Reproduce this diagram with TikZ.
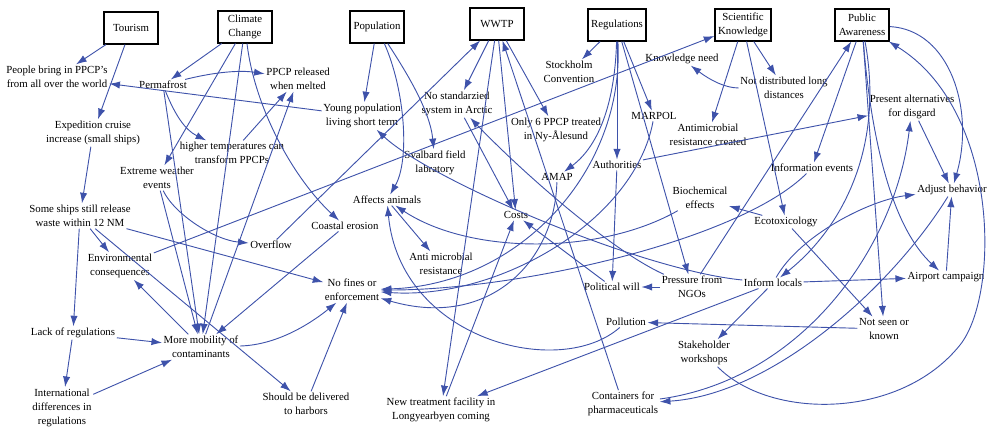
\documentclass[tikz,border=0pt]{standalone}
\usepackage{fontspec}
\setmainfont{Liberation Serif}
\usepackage{tikz}
\usetikzlibrary{arrows.meta}
\definecolor{linkblue}{RGB}{62,82,170}

\begin{document}
\begin{tikzpicture}[
    x=0.025cm, y=-0.025cm,
    >={Latex[length=7.5pt,width=5.2pt]},
    lbl/.style={font=\fontsize{7.7}{10.2}\selectfont, align=center, inner sep=1pt},
    factor/.style={lbl, draw, line width=1.3pt, minimum width=1.36cm, minimum height=0.78cm, inner xsep=2pt},
    link/.style={->, draw=linkblue, line width=0.65pt},
]
\useasboundingbox (0,0) rectangle (991,431);

\node[factor] (tourism) at (131,28) {Tourism};
\node[factor] (climate) at (245,27) {Climate\\Change};
\node[factor] (population) at (377,27) {Population};
\node[factor] (wwtp) at (497,24) {WWTP};
\node[factor] (regs) at (617,25) {Regulations};
\node[factor] (sciknow) at (743,25) {Scientific\\Knowledge};
\node[factor] (pubaware) at (862,25) {Public\\Awareness};

\node[lbl] (people) at (57,77) {People bring in PPCP's\\from all over the world};
\node[lbl] (perma) at (163,85) {Permafrost};
\node[lbl] (ppcprel) at (298,79) {PPCP released\\when melted};
\node[lbl] (young) at (362,116) {Young population\\living short term};
\node[lbl] (nostd) at (457,104) {No standarzied\\system in Arctic};
\node[lbl] (stock) at (569,72) {Stockholm\\Convention};
\node[lbl] (knowneed) at (682,59) {Knowledge need};
\node[lbl] (notdist) at (784,88) {Not distributed long\\distances};
\node[lbl] (only6) at (556,130) {Only 6 PPCP treated\\in Ny-Ålesund};
\node[lbl] (marpol) at (654,116) {MARPOL};
\node[lbl] (presalt) at (912,107) {Present alternatives\\for disgard};
\node[lbl] (exped) at (93,133) {Expedition cruise\\increase (small ships)};
\node[lbl] (hightemp) at (232,153) {higher temperatures can\\transform PPCPs};
\node[lbl] (antimic) at (708,135) {Antimicrobial\\resistance created};
\node[lbl] (svalbard) at (435,163) {Svalbard field\\labratory};
\node[lbl] (amap) at (557,177) {AMAP};
\node[lbl] (auth) at (617,165) {Authorities};
\node[lbl] (extreme) at (157,178) {Extreme weather\\events};
\node[lbl] (infoev) at (812,168) {Information events};
\node[lbl] (biochem) at (700,198) {Biochemical\\effects};
\node[lbl] (affects) at (387,200) {Affects animals};
\node[lbl] (costs) at (516,215) {Costs};
\node[lbl] (ecotox) at (786,222) {Ecotoxicology};
\node[lbl] (adjust) at (952,190) {Adjust behavior};
\node[lbl] (ships) at (80,216) {Some ships still release\\waste within 12 NM};
\node[lbl] (overflow) at (271,245) {Overflow};
\node[lbl] (coastal) at (345,226) {Coastal erosion};
\node[lbl] (antires) at (441,264) {Anti microbial\\resistance};
\node[lbl] (envcons) at (120,266) {Environmental\\consequences};
\node[lbl] (nofines) at (352,290) {No fines or\\enforcement};
\node[lbl] (polwill) at (612,287) {Political will};
\node[lbl] (pressure) at (692,287) {Pressure from\\NGOs};
\node[lbl] (inform) at (773,283) {Inform locals};
\node[lbl] (airport) at (946,277) {Airport campaign};
\node[lbl] (pollution) at (626,322) {Pollution};
\node[lbl] (notseen) at (884,329) {Not seen or\\known};
\node[lbl] (lackreg) at (73,333) {Lack of regulations};
\node[lbl] (mobil) at (201,347) {More mobility of\\contaminants};
\node[lbl] (stake) at (704,353) {Stakeholder\\workshops};
\node[lbl] (intl) at (62,408) {International\\differences in\\regulations};
\node[lbl] (delivered) at (306,404) {Should be delivered\\to harbors};
\node[lbl] (newtreat) at (441,410) {New treatment facility in\\Longyearbyen coming};
\node[lbl] (containers) at (623,404) {Containers for\\pharmaceuticals};

\draw[link] (tourism) -- (people);
\draw[link] (tourism) -- (exped);
\draw[link] (climate) -- (perma);
\draw[link] (climate) -- (extreme);
\draw[link] (climate) -- (mobil);
\draw[link] (climate) .. controls (255,110) and (295,180) .. (coastal);
\draw[link] (perma) .. controls (215,72) and (240,70) .. (ppcprel);
\draw[link] (perma) .. controls (175,115) and (185,130) .. (hightemp);
\draw[link] (perma) -- (mobil);
\draw[link] (hightemp) -- (ppcprel);
\draw[link] (mobil) -- (ppcprel);
\draw[link] (extreme) .. controls (175,215) and (215,240) .. (overflow);
\draw[link] (extreme) -- (mobil);
\draw[link] (population) -- (young);
\draw[link] (population) .. controls (405,70) and (430,110) .. (svalbard);
\draw[link] (population) .. controls (405,90) and (410,160) .. (affects);
\draw[link] (young) -- (people);
\draw[link] (wwtp) -- (nostd);
\draw[link] (wwtp) -- (only6);
\draw[link] (wwtp) -- (costs);
\draw[link] (wwtp) -- (newtreat);
\draw[link] (newtreat) -- (costs);
\draw[link] (containers) -- (wwtp);
\draw[link] (overflow) -- (wwtp);
\draw[link] (nostd) -- (costs);
\draw[link] (regs) -- (stock);
\draw[link] (regs) -- (marpol);
\draw[link] (regs) -- (auth);
\draw[link] (regs) .. controls (615,100) and (600,145) .. (amap);
\draw[link] (regs) -- (pressure);
\draw[link] (regs) .. controls (625,170) and (520,285) .. (nofines);
\draw[link] (marpol) .. controls (635,220) and (500,300) .. (nofines);
\draw[link] (amap) .. controls (555,260) and (490,330) .. (nofines);
\draw[link] (infoev) .. controls (740,240) and (520,290) .. (nofines);
\draw[link] (auth) -- (polwill);
\draw[link] (auth) -- (presalt);
\draw[link] (pressure) -- (polwill);
\draw[link] (pressure) -- (pubaware);
\draw[link] (pressure) .. controls (610,250) and (520,170) .. (nostd);
\draw[link] (polwill) -- (costs);
\draw[link] (sciknow) -- (notdist);
\draw[link] (sciknow) -- (antimic);
\draw[link] (sciknow) -- (ecotox);
\draw[link] (notdist) .. controls (725,88) and (710,80) .. (knowneed);
\draw[link] (envcons) -- (sciknow);
\draw[link] (ecotox) -- (biochem);
\draw[link] (ecotox) -- (notseen);
\draw[link] (biochem) .. controls (600,255) and (470,255) .. (affects);
\draw[link] (affects) -- (antires);
\draw[link] (pollution) .. controls (560,380) and (400,340) .. (affects);
\draw[link] (notseen) -- (pollution);
\draw[link] (pubaware) -- (infoev);
\draw[link] (pubaware) -- (notseen);
\draw[link] (pubaware) .. controls (872,150) and (895,230) .. (airport);
\draw[link] (pubaware) .. controls (885,150) and (840,230) .. (inform);
\draw[link] (pubaware) .. controls (950,30) and (975,110) .. (adjust);
\draw[link] (stake) .. controls (770,420) and (900,420) .. (960,345)
      .. controls (1000,295) and (1000,110) .. (pubaware);
\draw[link] (presalt) -- (adjust);
\draw[link] (airport) -- (adjust);
\draw[link] (inform) -- (airport);
\draw[link] (inform) .. controls (800,235) and (870,200) .. (adjust);
\draw[link] (inform) -- (stake);
\draw[link] (inform) -- (newtreat);
\draw[link] (inform) .. controls (640,270) and (430,180) .. (young);
\draw[link] (adjust) .. controls (890,290) and (770,395) .. (containers);
\draw[link] (containers) .. controls (800,380) and (895,250) .. (presalt);
\draw[link] (exped) -- (ships);
\draw[link] (ships) -- (envcons);
\draw[link] (ships) -- (nofines);
\draw[link] (ships) -- (delivered);
\draw[link] (ships) -- (lackreg);
\draw[link] (mobil) -- (envcons);
\draw[link] (lackreg) -- (mobil);
\draw[link] (lackreg) -- (intl);
\draw[link] (intl) -- (mobil);
\draw[link] (mobil) .. controls (280,345) and (315,320) .. (nofines);
\draw[link] (delivered) -- (nofines);
\draw[link] (coastal) -- (mobil);
\end{tikzpicture}
\end{document}
